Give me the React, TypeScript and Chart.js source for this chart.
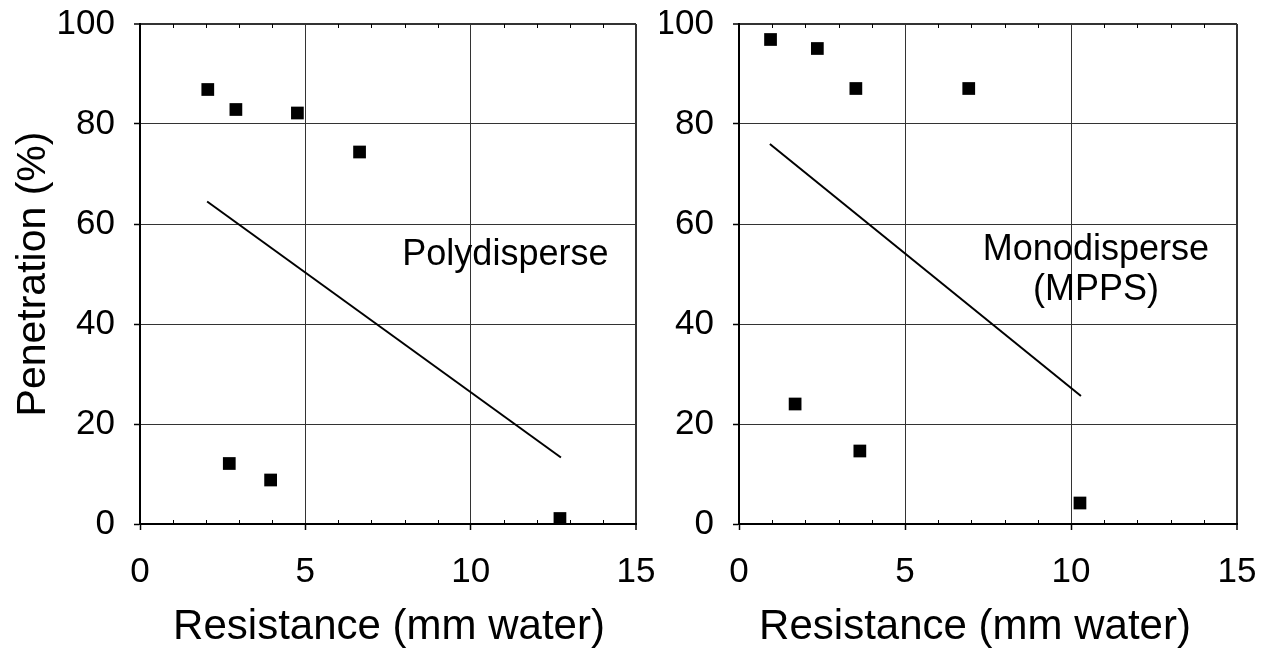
import React, { useEffect, useRef } from "react";
import { Chart, registerables } from "chart.js";

Chart.register(...registerables);

const FONT = "'Liberation Sans', Arial, Helvetica, sans-serif";

// ---- Data ----
// Left panel: Polydisperse
const polyResistance = [2.05, 2.9, 4.76, 6.64, 2.7, 3.95, 12.7];
const polyPenetration = [86.9, 82.9, 82.2, 74.4, 12.1, 8.8, 1.1];
const polyFitResistance = [2.03, 12.73];
const polyFitPenetration = [64.5, 13.3];
const polyLabelLines = ["Polydisperse"];

// Right panel: Monodisperse (MPPS)
const monoResistance = [0.95, 2.36, 3.52, 6.92, 1.69, 3.64, 10.27];
const monoPenetration = [96.9, 95.1, 87.1, 87.1, 24.0, 14.6, 4.2];
const monoFitResistance = [0.93, 10.3];
const monoFitPenetration = [76.0, 25.6];
const monoLabelLines = ["Monodisperse", "(MPPS)"];

// Axes
const xTitle = "Resistance (mm water)";
const yTitle = "Penetration (%)";
const xMin = 0;
const xMax = 15;
const xMajorStep = 5;
const xMinorStep = 1;
const yMin = 0;
const yMax = 100;
const yStep = 20;

const W = 1277;
const H = 654;

const decorPlugin = {
  id: "panelDecor",
  afterDraw(chart: any, _args: any, opts: any) {
    const { ctx, chartArea, scales } = chart;
    const xs = scales.x;
    const ys = scales.y;
    ctx.save();
    ctx.strokeStyle = "#000";
    ctx.lineWidth = 1;
    for (let v = xMin + xMinorStep; v < xMax; v += xMinorStep) {
      if (Math.abs(v % xMajorStep) < 1e-9) continue;
      const px = Math.round(xs.getPixelForValue(v)) + 0.5;
      ctx.beginPath();
      ctx.moveTo(px, chartArea.bottom);
      ctx.lineTo(px, chartArea.bottom - 4);
      ctx.moveTo(px, chartArea.top);
      ctx.lineTo(px, chartArea.top + 4);
      ctx.stroke();
    }
    ctx.fillStyle = "#000";
    ctx.textAlign = "center";
    ctx.textBaseline = "middle";
    if (opts && opts.lines) {
      ctx.font = `${opts.size}px ${FONT}`;
      const cx = xs.getPixelForValue(opts.x);
      const cy = ys.getPixelForValue(opts.y);
      opts.lines.forEach((t: string, i: number) => {
        ctx.fillText(t, cx, cy + i * opts.lineGap);
      });
    }
    if (opts && opts.xTitle) {
      ctx.font = `${opts.xTitle.size}px ${FONT}`;
      const cx = (chartArea.left + chartArea.right) / 2 + opts.xTitle.dx;
      ctx.fillText(opts.xTitle.text, cx, opts.xTitle.y);
    }
    ctx.restore();
  },
};

type PanelProps = {
  left: number;
  width: number;
  yWidth: number;
  padRight: number;
  showYTitle: boolean;
  px: number[];
  py: number[];
  fx: number[];
  fy: number[];
  label: any;
};

function Panel(props: PanelProps) {
  const ref = useRef<HTMLCanvasElement | null>(null);
  useEffect(() => {
    if (!ref.current) return;
    const points = props.px.map((x, i) => ({ x, y: props.py[i] }));
    const fit = props.fx.map((x, i) => ({ x, y: props.fy[i] }));
    const gridWidth = (edge: number) => (c: any) =>
      c.tick && c.tick.value === edge ? 2 : 1;
    const chart = new Chart(ref.current, {
      type: "scatter",
      data: {
        datasets: [
          {
            data: points,
            pointStyle: "rect",
            pointRadius: 9,
            pointHoverRadius: 9,
            backgroundColor: "#000",
            borderColor: "#000",
            borderWidth: 0,
          } as any,
          {
            data: fit,
            showLine: true,
            pointRadius: 0,
            pointHoverRadius: 0,
            borderColor: "#000",
            borderWidth: 2,
            fill: false,
          } as any,
        ],
      },
      options: {
        animation: false,
        responsive: false,
        devicePixelRatio: 1,
        events: [],
        layout: { padding: { top: 24, right: props.padRight, bottom: 0, left: 0 } },
        plugins: {
          legend: { display: false },
          tooltip: { enabled: false },
          panelDecor: props.label,
        } as any,
        scales: {
          x: {
            type: "linear",
            min: xMin,
            max: xMax,
            ticks: {
              stepSize: xMajorStep,
              font: { size: 35, family: FONT },
              color: "#000",
              padding: 21,
              maxRotation: 0,
            },
            grid: {
              color: "#333",
              lineWidth: gridWidth(xMax) as any,
              tickLength: 6,
              tickColor: "#000",
              tickWidth: 1.5,
            },
            border: { color: "#000", width: 2 },
            title: { display: false },
            afterFit: (s: any) => {
              s.height = 130;
              s.paddingLeft = 0;
              s.paddingRight = 0;
              s.paddingTop = 0;
              s.paddingBottom = 0;
            },
          },
          y: {
            type: "linear",
            min: yMin,
            max: yMax,
            ticks: {
              stepSize: yStep,
              font: { size: 35, family: FONT },
              color: "#000",
              padding: 19,
            },
            grid: {
              color: "#333",
              lineWidth: gridWidth(yMax) as any,
              tickLength: 6,
              tickColor: "#000",
              tickWidth: 1.5,
            },
            border: { color: "#000", width: 2 },
            title: {
              display: props.showYTitle,
              text: yTitle,
              color: "#000",
              font: { size: 41, family: FONT },
              padding: { top: 9, bottom: 0 },
            },
            afterFit: (s: any) => {
              s.width = props.yWidth;
              s.paddingLeft = 0;
              s.paddingRight = 0;
              s.paddingTop = 0;
              s.paddingBottom = 0;
            },
          },
        },
      } as any,
      plugins: [decorPlugin as any],
    });
    return () => chart.destroy();
  }, []);
  return (
    <canvas
      ref={ref}
      width={props.width}
      height={H}
      style={{ position: "absolute", left: props.left, top: 0, width: props.width, height: H, display: "block" }}
    />
  );
}

export default function App() {
  return (
    <div style={{ position: "fixed", left: 0, top: 0, width: W, height: H, background: "#fff", overflow: "hidden" }}>
      <Panel
        left={0}
        width={660}
        yWidth={140}
        padRight={24}
        showYTitle={true}
        px={polyResistance}
        py={polyPenetration}
        fx={polyFitResistance}
        fy={polyFitPenetration}
        label={{
          lines: polyLabelLines,
          x: 11.05,
          y: 53.7,
          size: 36,
          lineGap: 39.5,
          xTitle: { text: xTitle, size: 42, dx: 1, y: 627 },
        }}
      />
      <Panel
        left={660}
        width={617}
        yWidth={79}
        padRight={40}
        showYTitle={false}
        px={monoResistance}
        py={monoPenetration}
        fx={monoFitResistance}
        fy={monoFitPenetration}
        label={{
          lines: monoLabelLines,
          x: 10.75,
          y: 54.7,
          size: 36,
          lineGap: 39.5,
          xTitle: { text: xTitle, size: 42, dx: -13, y: 627 },
        }}
      />
    </div>
  );
}
